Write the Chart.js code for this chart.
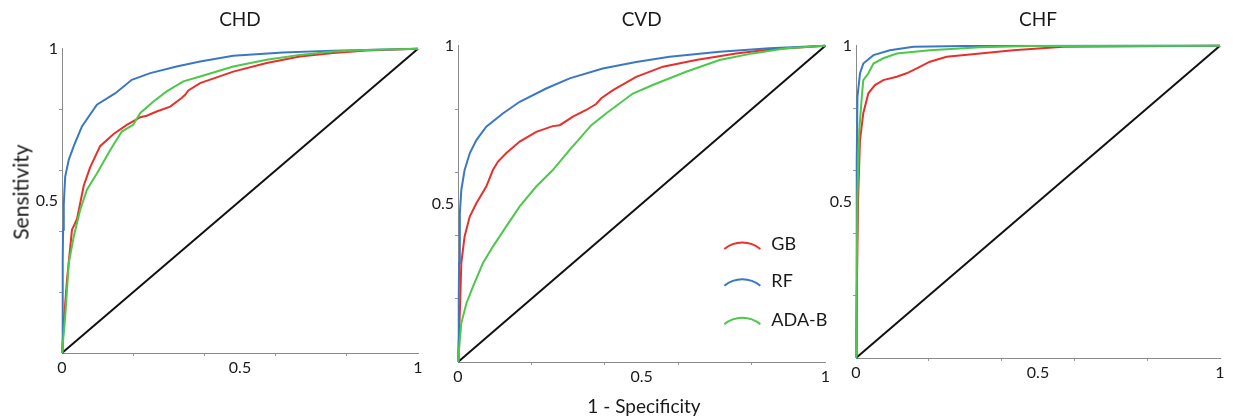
<!DOCTYPE html>
<html>
<head>
<meta charset="utf-8">
<script src="https://cdn.jsdelivr.net/npm/chart.js@4.4.1/dist/chart.umd.min.js"></script>
<style>
    html, body { margin: 0; padding: 0; background: #fff; }
    body { width: 1233px; height: 420px; position: relative; overflow: hidden; font-family: Lato, sans-serif; color: #1a1a1a; }
    .panel { position: absolute; top: 0; }
    #ylab { position: absolute; left: 20px; top: 192px; transform: translate(-50%, -50%) rotate(-90deg); font-size: 21px; white-space: nowrap; }
    #xlab { position: absolute; left: 644px; top: 405px; transform: translate(-50%, -50%); font-size: 19px; white-space: nowrap; }
</style>
</head>
<body>
<div class="panel" style="left:20px;width:406px;height:383px"><canvas id="rocCHD"></canvas></div>
<div class="panel" style="left:420px;width:412px;height:392px"><canvas id="rocCVD"></canvas></div>
<div class="panel" style="left:826px;width:402px;height:388px"><canvas id="rocCHF"></canvas></div>
<div id="ylab">Sensitivity</div>
<div id="xlab">1 - Specificity</div>

<script>
// ------------------------------------------------------------
// Данные: точки ROC-кривых [1 - specificity, sensitivity]
// ------------------------------------------------------------
const MODELS = ['GB', 'RF', 'ADA-B'];
const TICK_LABELS = [0, 0.5, 1];
const DIAGONAL = [[0, 0], [1, 1]];

const CHD_GB = [[0, 0], [0.005, 0.1], [0.014, 0.24], [0.028, 0.405], [0.042, 0.44], [0.061, 0.55], [0.079, 0.61],
    [0.107, 0.68], [0.145, 0.72], [0.182, 0.75], [0.22, 0.775], [0.238, 0.78], [0.266, 0.794], [0.304, 0.81],
    [0.336, 0.838], [0.346, 0.849], [0.355, 0.863], [0.388, 0.887], [0.481, 0.925], [0.575, 0.953],
    [0.668, 0.975], [0.762, 0.986], [0.855, 0.994], [1, 1]];
const CHD_RF = [[0, 0], [0.002, 0.3], [0.003, 0.405], [0.005, 0.49], [0.009, 0.58], [0.019, 0.635], [0.033, 0.68],
    [0.056, 0.745], [0.098, 0.816], [0.15, 0.854], [0.196, 0.898], [0.248, 0.92], [0.322, 0.942], [0.388, 0.958],
    [0.481, 0.977], [0.621, 0.988], [0.762, 0.994], [1, 1]];
const CHD_ADA = [[0, 0], [0.009, 0.12], [0.019, 0.296], [0.033, 0.383], [0.051, 0.47], [0.07, 0.537], [0.098, 0.59],
    [0.136, 0.668], [0.168, 0.728], [0.2, 0.75], [0.22, 0.789], [0.257, 0.827], [0.294, 0.86], [0.341, 0.893],
    [0.388, 0.909], [0.481, 0.942], [0.575, 0.964], [0.668, 0.98], [0.762, 0.991], [0.855, 0.996], [1, 1]];

const CVD_GB = [[0, 0], [0.005, 0.155], [0.009, 0.313], [0.018, 0.397], [0.032, 0.46], [0.05, 0.502], [0.077, 0.555],
    [0.095, 0.607], [0.109, 0.634], [0.131, 0.66], [0.168, 0.697], [0.213, 0.728], [0.258, 0.746], [0.277, 0.749],
    [0.313, 0.776], [0.349, 0.797], [0.376, 0.816], [0.39, 0.834], [0.422, 0.86], [0.485, 0.902], [0.558, 0.934],
    [0.648, 0.955], [0.757, 0.976], [0.848, 0.988], [1, 1]];
const CVD_RF = [[0, 0], [0.002, 0.2], [0.003, 0.313], [0.005, 0.47], [0.009, 0.544], [0.018, 0.607], [0.032, 0.66],
    [0.05, 0.702], [0.077, 0.744], [0.122, 0.786], [0.168, 0.823], [0.24, 0.865], [0.304, 0.897], [0.394, 0.928],
    [0.485, 0.949], [0.576, 0.965], [0.712, 0.981], [0.848, 0.992], [1, 1]];
const CVD_ADA = [[0, 0], [0.009, 0.123], [0.023, 0.186], [0.041, 0.239], [0.068, 0.313], [0.095, 0.365],
    [0.131, 0.428], [0.168, 0.492], [0.213, 0.555], [0.258, 0.607], [0.304, 0.671], [0.363, 0.749], [0.403, 0.786],
    [0.476, 0.849], [0.53, 0.876], [0.621, 0.918], [0.712, 0.955], [0.802, 0.976], [0.893, 0.992], [1, 1]];

const CHF_GB = [[0, 0], [0.004, 0.357], [0.006, 0.517], [0.011, 0.698], [0.02, 0.784], [0.034, 0.848], [0.052, 0.874],
    [0.075, 0.89], [0.112, 0.901], [0.139, 0.912], [0.167, 0.928], [0.203, 0.949], [0.249, 0.965], [0.341, 0.975],
    [0.432, 0.986], [0.57, 0.997], [1, 1]];
const CHF_RF = [[0, 0], [0.002, 0.624], [0.004, 0.837], [0.011, 0.912], [0.02, 0.943], [0.048, 0.97], [0.093, 0.986],
    [0.158, 0.997], [0.295, 0.999], [1, 1]];
const CHF_ADA = [[0, 0], [0.004, 0.517], [0.009, 0.73], [0.016, 0.837], [0.02, 0.89], [0.034, 0.912], [0.048, 0.943],
    [0.075, 0.96], [0.112, 0.975], [0.203, 0.986], [0.341, 0.995], [0.478, 0.999], [1, 1]];

// положение легенды (в единицах осей панели CVD)
const LEGEND_ARC_X = 0.774;
const LEGEND_TEXT_X = 0.853;
const LEGEND_Y = [0.378, 0.262, 0.14];

// ------------------------------------------------------------
// Оформление
// ------------------------------------------------------------
const COLORS = ['#e8302a', '#3b78c4', '#4cc84a'];
const FONT = 'Lato, sans-serif';

const toXY = (pts) => pts.map(([x, y]) => ({ x, y }));
const isMajor = (v) => TICK_LABELS.some((t) => Math.abs(t - v) < 1e-6);

// легенда с дугами вместо прямоугольников
const arcLegend = {
    id: 'arcLegend',
    afterDatasetsDraw(chart, args, opts) {
        if (!opts.show) return;
        const { ctx, scales: { x, y } } = chart;
        const half = 18, sag = 6.5;
        const r = (half * half + sag * sag) / (2 * sag);
        const a = Math.asin(half / r);
        ctx.save();
        chart.data.datasets.filter((d) => d.label).forEach((d, i) => {
            const cx = x.getPixelForValue(LEGEND_ARC_X);
            const ay = y.getPixelForValue(LEGEND_Y[i]);
            ctx.beginPath();
            ctx.arc(cx, ay + r, r, -Math.PI / 2 - a, -Math.PI / 2 + a);
            ctx.strokeStyle = d.borderColor;
            ctx.lineWidth = 2;
            ctx.stroke();
            ctx.fillStyle = '#1a1a1a';
            ctx.font = '18px ' + FONT;
            ctx.textBaseline = 'middle';
            ctx.fillText(d.label, x.getPixelForValue(LEGEND_TEXT_X), ay + 2);
        });
        ctx.restore();
    },
};

function makePanel(id, title, curves, cfg) {
    const datasets = curves.map((pts, i) => ({
        label: MODELS[i],
        data: toXY(pts),
        borderColor: COLORS[i],
        borderWidth: 2,
        pointRadius: 0,
        showLine: true,
        tension: 0,
        clip: false,
        order: 3 - i,
    }));
    datasets.push({
        data: toXY(DIAGONAL),
        borderColor: '#111',
        borderWidth: 2,
        pointRadius: 0,
        showLine: true,
        clip: false,
        order: 10,
    });

    // короткие засечки через 0.2, подписи только 0 / 0.5 / 1
    const tickColor = (ctx) => (ctx.tick && !isMajor(ctx.tick.value) && Math.round(ctx.tick.value * 10) % 2 === 0
        ? '#999' : 'rgba(0,0,0,0)');

    return new Chart(document.getElementById(id), {
        type: 'scatter',
        data: { datasets },
        plugins: [arcLegend],
        options: {
            responsive: true,
            maintainAspectRatio: false,
            animation: false,
            layout: { padding: { left: 0, right: cfg.right, top: 0, bottom: 0 } },
            plugins: {
                legend: { display: false },
                tooltip: { enabled: false },
                title: {
                    display: true,
                    text: title,
                    fullSize: false,
                    color: '#1a1a1a',
                    font: { family: FONT, size: 19, weight: 'normal', lineHeight: 1.2 },
                    padding: { top: 8, bottom: cfg.titleGap },
                },
                arcLegend: { show: !!cfg.legend },
            },
            scales: {
                x: {
                    type: 'linear', min: 0, max: 1,
                    afterFit: (s) => { s.height = 30; },
                    border: { color: '#8a8a8a', width: 1 },
                    grid: { drawOnChartArea: false, tickLength: 3, tickColor },
                    ticks: {
                        stepSize: 0.1, autoSkip: false, maxRotation: 0, padding: 2,
                        color: '#1a1a1a', font: { family: FONT, size: 16 },
                        callback: (v) => (isMajor(v) ? String(Math.round(v * 10) / 10) : ''),
                    },
                },
                y: {
                    type: 'linear', min: 0, max: 1,
                    afterFit: (s) => { s.width = cfg.yWidth; },
                    border: { color: '#8a8a8a', width: 1 },
                    grid: { drawOnChartArea: false, tickLength: 3, tickColor },
                    ticks: {
                        stepSize: 0.1, autoSkip: false, padding: 1,
                        color: '#1a1a1a', font: { family: FONT, size: 16 },
                        callback: (v) => (isMajor(v) && v > 0 ? String(Math.round(v * 10) / 10) : ''),
                    },
                },
            },
        },
    });
}

makePanel('rocCHD', 'CHD', [CHD_GB, CHD_RF, CHD_ADA], { yWidth: 42, right: 8, titleGap: 18 });
makePanel('rocCVD', 'CVD', [CVD_GB, CVD_RF, CVD_ADA], { yWidth: 38, right: 6, titleGap: 15, legend: true });
makePanel('rocCHF', 'CHF', [CHF_GB, CHF_RF, CHF_ADA], { yWidth: 30, right: 8, titleGap: 15 });
</script>
</body>
</html>
